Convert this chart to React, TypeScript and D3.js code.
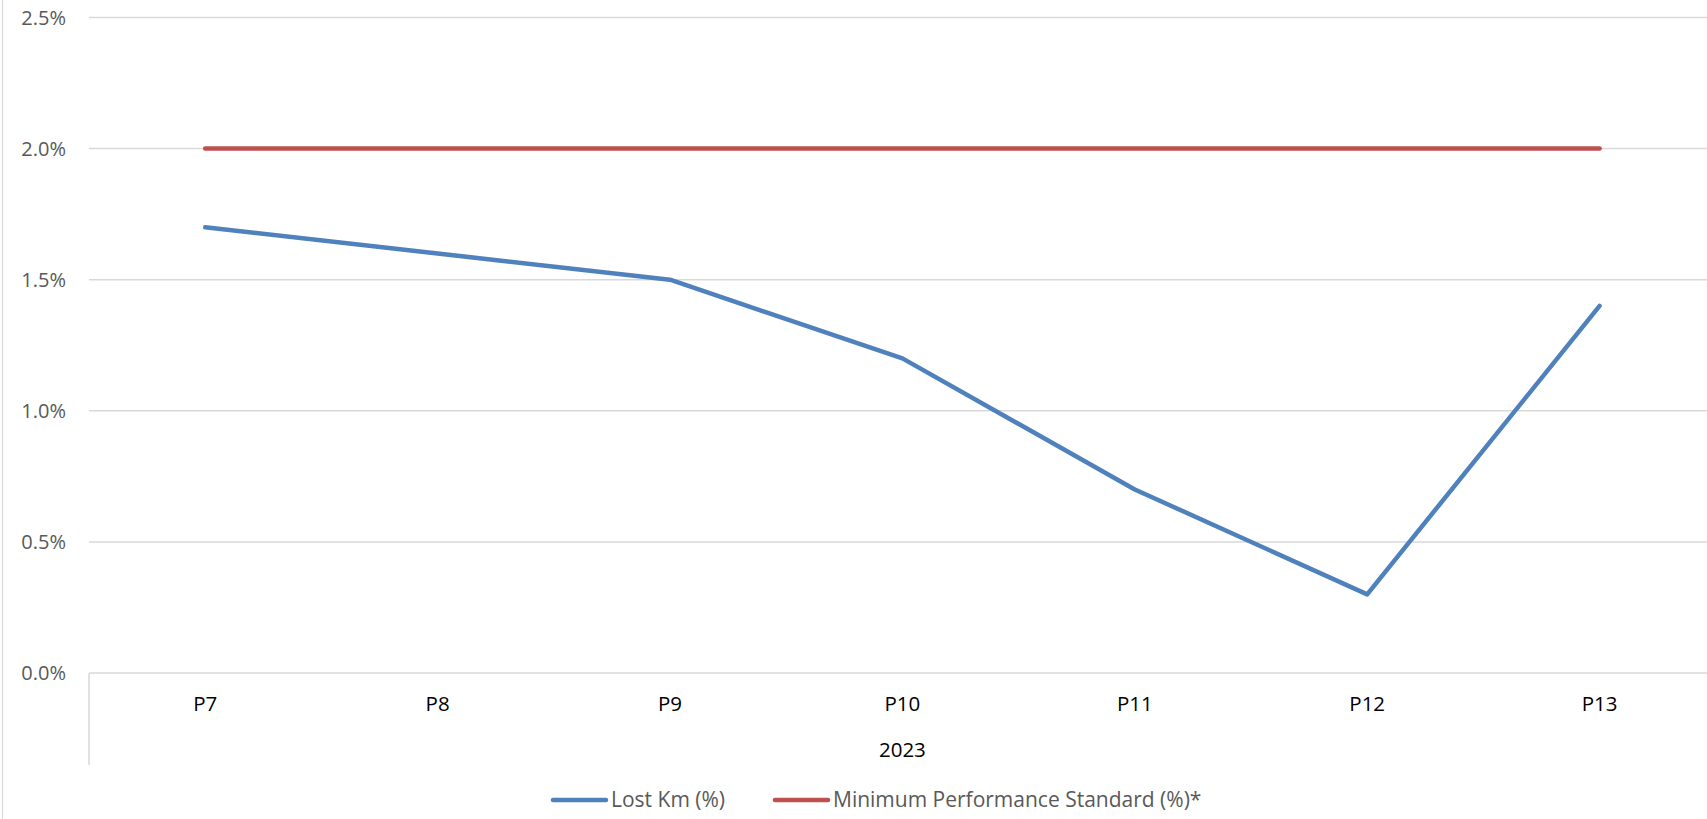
import React from 'react';
import * as d3 from 'd3';

// periods on the category axis, grouped under one year
const periods = ['P7', 'P8', 'P9', 'P10', 'P11', 'P12', 'P13'];
const yearLabel = '2023';

// series values (fractions)
const lostKm = [0.017, 0.016, 0.015, 0.012, 0.007, 0.003, 0.014];
const minStandard = [0.02, 0.02, 0.02, 0.02, 0.02, 0.02, 0.02];

const yTicks = [0, 0.005, 0.01, 0.015, 0.02, 0.025];

const series = [
  { name: 'Lost Km (%)', values: lostKm, color: '#4f81bd' },
  { name: 'Minimum Performance Standard (%)*', values: minStandard, color: '#c0504d' },
];

const W = 1707;
const H = 819;
const FONT = '"Open Sans", "Liberation Sans", sans-serif';

const App: React.FC = () => {
  const plotLeft = 89;
  const bandW = 232.4;

  const x = d3.scaleBand<string>()
    .domain(periods)
    .range([plotLeft, plotLeft + bandW * periods.length])
    .padding(0);

  const y = d3.scaleLinear()
    .domain([0, 0.025])
    .range([673, 17.5]);

  const fmt = d3.format('.1%');

  const lineGen = d3.line<number>()
    .x((_, i) => (x(periods[i]) as number) + x.bandwidth() / 2)
    .y(d => y(d));

  const [x0, x1] = x.range();

  return (
    <svg
      width={W}
      height={H}
      style={{ position: 'absolute', left: 0, top: 0, background: '#fff' }}
    >
      {/* outer chart border, only left edge visible */}
      <line x1={2.5} x2={2.5} y1={0} y2={H} stroke="#d9d9d9" strokeWidth={1.2} />

      {/* gridlines */}
      {yTicks.map(t => (
        <line
          key={t}
          x1={x0}
          x2={x1}
          y1={y(t)}
          y2={y(t)}
          stroke="#d9d9d9"
          strokeWidth={1.5}
        />
      ))}

      {/* y labels */}
      {yTicks.map(t => (
        <text
          key={'l' + t}
          x={66}
          y={y(t)}
          dy="0.35em"
          textAnchor="end"
          fontFamily={FONT}
          fontSize={20}
          fill="#595959"
        >
          {fmt(t)}
        </text>
      ))}

      {/* multi-level category axis divider */}
      <line x1={x0} x2={x0} y1={y(0)} y2={765} stroke="#d9d9d9" strokeWidth={1.5} />

      {periods.map(p => (
        <text
          key={p}
          x={(x(p) as number) + x.bandwidth() / 2}
          y={704}
          dy="0.35em"
          textAnchor="middle"
          fontFamily={FONT}
          fontSize={20.5}
          fill="#000"
        >
          {p}
        </text>
      ))}

      <text
        x={(x0 + x1) / 2}
        y={750}
        dy="0.35em"
        textAnchor="middle"
        fontFamily={FONT}
        fontSize={20.5}
        fill="#000"
      >
        {yearLabel}
      </text>

      {/* series lines */}
      {series.map(s => (
        <path
          key={s.name}
          d={lineGen(s.values) || ''}
          fill="none"
          stroke={s.color}
          strokeWidth={4.5}
          strokeLinecap="round"
          strokeLinejoin="round"
        />
      ))}

      {/* legend */}
      {series.map((s, i) => {
        const lx = i === 0 ? 553 : 775;
        return (
          <g key={'lg' + s.name} transform={`translate(${lx},800)`}>
            <line x1={0} x2={53} y1={0} y2={0} stroke={s.color} strokeWidth={4.5} strokeLinecap="round" />
            <text
              x={58}
              y={0}
              dy="0.35em"
              fontFamily={FONT}
              fontSize={21}
              fill="#595959"
            >
              {s.name}
            </text>
          </g>
        );
      })}
    </svg>
  );
};

export default App;
